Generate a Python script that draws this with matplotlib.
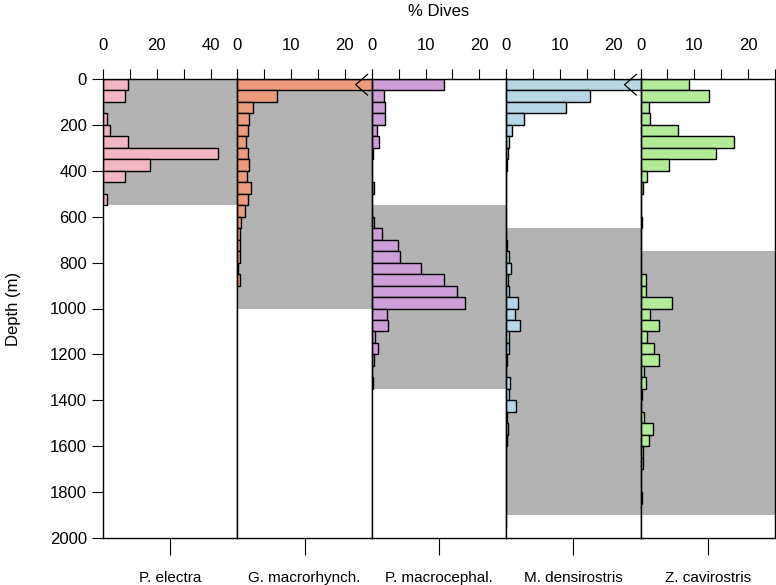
import matplotlib
matplotlib.use("Agg")
import matplotlib.pyplot as plt
import numpy as np

plt.rcParams["font.family"] = ["Liberation Sans", "DejaVu Sans"]

# ── data: % dives per 50 m depth bin, starting at 0 m ────────────────────────
BIN = 50
species = ["P. electra", "G. macrorhynch.", "P. macrocephal.",
           "M. densirostris", "Z. cavirostris"]

p_electra = [9.3, 8.1, 0, 1.5, 2.5, 9.3, 42.8, 17.4, 8.1, 0, 1.5]
g_macro = [69.6, 7.3, 2.9, 2.1, 1.9, 1.6, 1.9, 2.25, 1.8, 2.6, 1.9, 1.4,
           0.75, 0.45, 0.45, 0.55, 0.1, 0.45]
p_macro = [13.4, 2.3, 2.5, 2.5, 1.05, 1.3, 0.15, 0.05, 0.1, 0.45, 0, 0,
           0.45, 1.9, 4.9, 5.3, 9.1, 13.4, 15.8, 17.4, 2.8, 3.0, 0.6, 1.1,
           0.45, 0.05, 0.2]
m_dens = [54, 15.5, 11.1, 3.3, 1.1, 0.5, 0.3, 0.1, 0.05, 0.05, 0, 0, 0,
          0.05, 0.1, 0.6, 0.8, 0.3, 0.5, 2.2, 1.6, 2.5, 0.6, 0.45, 0.15,
          0.05, 0.75, 0.6, 1.75, 0.1, 0.3, 0.1, 0.05, 0.05, 0.05, 0.05,
          0.05, 0.05, 0.05]
z_cav = [9.0, 12.7, 1.55, 1.8, 7.0, 17.3, 14.0, 5.3, 1.25, 0.45, 0.1, 0.05,
         0.3, 0.1, 0, 0.05, 0.1, 1.05, 0.95, 5.8, 1.7, 3.4, 1.25, 2.5, 3.4,
         0.6, 0.95, 0.2, 0.1, 0.6, 2.3, 1.55, 0.45, 0.45, 0, 0, 0.2]

# grey bands: depth range (m) per species
band_top = [0, 0, 550, 650, 750]
band_bot = [550, 1000, 1350, 1900, 1900]

x_max = [50, 25, 25, 25, 25]
colors = ["#F3B6C4", "#EC9C7A", "#CE9ED9", "#B8D7E6", "#B4EB98"]
series = [p_electra, g_macro, p_macro, m_dens, z_cav]

fig = plt.figure(figsize=(7.76, 5.85), dpi=100)

left, width = 103 / 776, 134.4 / 776
bottom, height = 1 - 538 / 585, (538 - 79) / 585

for i, (name, vals) in enumerate(zip(species, series)):
    ax = fig.add_axes([left + i * width, bottom, width, height])
    ax.axhspan(band_top[i], band_bot[i], color="#B3B3B3", lw=0, zorder=0)
    depth = np.arange(len(vals)) * BIN
    ax.barh(depth, vals, height=BIN, align="edge", color=colors[i],
            edgecolor="black", linewidth=1.0, zorder=2)
    ax.set_xlim(0, x_max[i])
    ax.set_ylim(2000, 0)

    # values running off the panel get a break mark
    if vals[0] > x_max[i]:
        xm = x_max[i]
        ax.plot([xm * 0.968, xm * 0.88, xm * 0.968], [-20, 25, 70],
                color="black", lw=0.9, clip_on=False, zorder=5)

    step = x_max[i] / 5
    ticks = np.arange(0, x_max[i] + 0.1, step)
    ax.xaxis.set_ticks_position("top")
    ax.set_xticks(ticks)
    ax.set_xticklabels([f"{v:g}" if j % 2 == 0 else ""
                        for j, v in enumerate(ticks)])
    ax.tick_params(axis="x", direction="out", length=7, width=0.8,
                   labelsize=12, pad=12)

    # one bottom tick with species name
    sec = ax.secondary_xaxis("bottom")
    sec.set_xticks([x_max[i] / 2])
    sec.set_xticklabels([name])
    sec.tick_params(length=12, width=0.8, labelsize=11, pad=12)
    sec.spines["bottom"].set_visible(False)

    if i == 0:
        ax.set_yticks(np.arange(0, 2001, 200))
        ax.tick_params(axis="y", direction="out", length=8, width=0.8,
                       labelsize=12)
        ax.set_ylabel("Depth (m)", fontsize=12, labelpad=21)
    else:
        ax.set_yticks([])
    for s in ax.spines.values():
        s.set_linewidth(1.0)

fig.text(left + 2.5 * width, 1 - 12 / 585, "% Dives", ha="center",
         va="center", fontsize=12)

fig.savefig("out.png", dpi=100)
